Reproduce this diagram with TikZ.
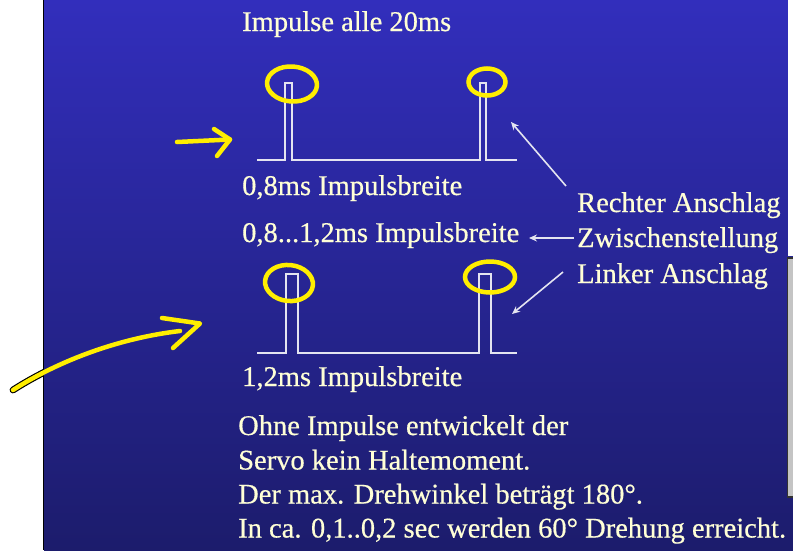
\documentclass[tikz,border=0pt]{standalone}
\usepackage{fontspec}
\setmainfont{Liberation Serif}
\newfontfamily\slidefont[FakeBold=0.5]{Liberation Serif}
\usetikzlibrary{arrows.meta,shapes.geometric}

\definecolor{bgtop}{RGB}{50,46,188}
\definecolor{bgbot}{RGB}{28,28,108}
\definecolor{cream}{RGB}{255,255,214}
\definecolor{wireclr}{RGB}{228,228,240}
\definecolor{hiyel}{RGB}{255,238,0}
\definecolor{panelgrey}{RGB}{196,196,196}

\tikzset{
  lbl/.style={anchor=base west, inner sep=0pt, text=cream,
              font=\slidefont\fontsize{28.5}{34}\selectfont},
  signal/.style={draw=wireclr, line width=1.5pt, line join=miter},
  pointer/.style={draw=wireclr, line width=1.6pt,
                  -{Stealth[length=8pt,width=7pt]}},
  marker/.style={draw=hiyel, line width=4.5pt, line cap=round, line join=round},
  ring/.style={ellipse, draw=hiyel, line width=4.5pt, inner sep=0pt},
}

\begin{document}
\begin{tikzpicture}[x=1pt,y=-1pt]
\useasboundingbox (0,0) rectangle (793,550);

% page and slide background
\fill[white] (0,0) rectangle (793,550);
\shade[top color=bgtop, bottom color=bgbot] (44,0) rectangle (793,550);
\draw[black, line width=1.5pt] (43.5,0) -- (43.5,550);

% strip at the right edge
\fill[white] (788,0) rectangle (793,256);
\fill[panelgrey] (787.5,258) rectangle (793,497);
\draw[black!80, line width=1.3pt] (793,258) -- (787.5,258) -- (787.5,497) -- (793,497);

% pulse trains
\draw[signal] (257,160) -- (285,160) -- (285,83) -- (292,83) -- (292,160)
  -- (480,160) -- (480,83) -- (486,83) -- (486,160) -- (517,160);
\draw[signal] (257,353) -- (286,353) -- (286,274) -- (298,274) -- (298,353)
  -- (479,353) -- (479,274) -- (491,274) -- (491,353) -- (517,353);

% labels
\node[lbl] (title) at (242,31)  {Impulse alle 20ms};
\node[lbl] (short) at (242,195) {0,8ms Impulsbreite};
\node[lbl] (range) at (242,242) {0,8...1,2ms Impulsbreite};
\node[lbl] (long)  at (242,386) {1,2ms Impulsbreite};
\node[lbl] (right) at (577,212) {Rechter Anschlag};
\node[lbl] (mid)   at (577,247) {Zwischenstellung};
\node[lbl] (left)  at (577,283) {Linker Anschlag};
\node[lbl] (noteA) at (238,435)   {Ohne Impulse entwickelt der};
\node[lbl] (noteB) at (238,469.5) {Servo kein Haltemoment.};
\node[lbl] (noteC) at (238,503.5) {Der max. Drehwinkel beträgt 180°.};
\node[lbl] (noteD) at (238,537.5) {In ca. 0,1..0,2 sec werden 60° Drehung erreicht.};

% pointers from the position labels to the pulse trains
\coordinate (rightFrom) at (566,186);
\coordinate (rightTo)   at (511,122);
\coordinate (midFrom)   at (574,238);
\coordinate (midTo)     at (529,238);
\coordinate (leftFrom)  at (563,272);
\coordinate (leftTo)    at (512,314);
\draw[pointer] (rightFrom) -- (rightTo);
\draw[pointer] (midFrom) -- (midTo);
\draw[pointer] (leftFrom) -- (leftTo);

% yellow highlights on the pulse tops
\node[ring, minimum width=50pt, minimum height=35pt, rotate=-4] (ringA) at (292,84) {};
\node[ring, minimum width=37pt, minimum height=27pt] (ringB) at (487,82) {};
\node[ring, minimum width=48pt, minimum height=36pt, rotate=-6] (ringC) at (289,283) {};
\node[ring, minimum width=50pt, minimum height=31pt] (ringD) at (490,277) {};

% yellow hand-drawn arrows
\coordinate (arrAstart) at (177,142);
\coordinate (arrAtip)   at (230,139.5);
\draw[marker] (arrAstart) -- (arrAtip);
\draw[marker] (214,129) -- (arrAtip) -- (217,156);

\coordinate (arrBstart) at (13,390);
\coordinate (arrBend)   at (180,331);
\coordinate (arrBtip)   at (200,323.5);
\begin{scope}
  \clip (0,0) rectangle (43,550);
  \draw[black, line width=6.8pt, line cap=round]
    (arrBstart) .. controls (60,360) and (120,338) .. (arrBend);
\end{scope}
\draw[marker] (arrBstart) .. controls (60,360) and (120,338) .. (arrBend);
\draw[marker] (162,318) -- (arrBtip) -- (173,348);
\end{tikzpicture}
\end{document}
